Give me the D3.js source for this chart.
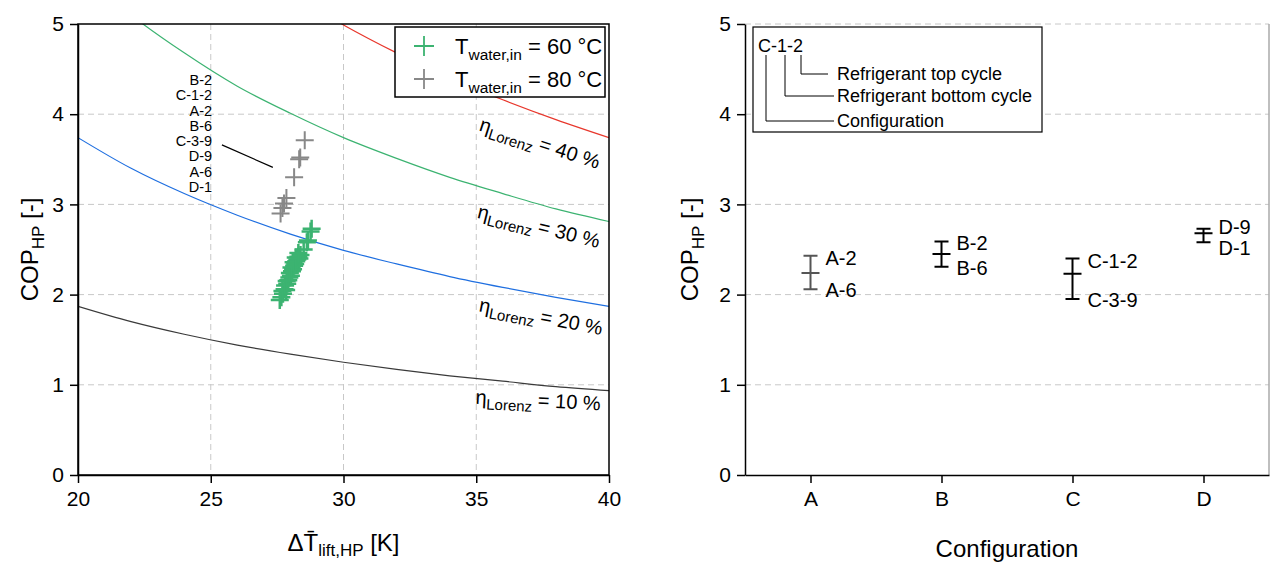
<!DOCTYPE html>
<html>
<head>
<meta charset="utf-8">
<script src="https://cdn.jsdelivr.net/npm/d3@7"></script>
<style>
  body { margin: 0; background: #fff; }
  svg text { font-family: "Liberation Sans", Arial, sans-serif; fill: #000; }
  .grid line { stroke: #c8c8c8; stroke-dasharray: 6,4; }
  .axis path, .axis line { stroke: #000; stroke-width: 1.5; }
  .axis text { font-size: 21px; }
</style>
</head>
<body>
<div id="chart"></div>
<script>
// ---- data ----
// Lorenz efficiency curves (COP read at each temperature lift)
const deltaT = [20, 22, 24, 26, 28, 30, 32, 34, 36, 38, 40];
const cop10 = [1.87, 1.70, 1.56, 1.44, 1.34, 1.25, 1.17, 1.10, 1.04, 0.98, 0.935];
const cop20 = [3.74, 3.40, 3.12, 2.88, 2.67, 2.49, 2.34, 2.20, 2.08, 1.97, 1.87];
const cop30 = [5.61, 5.10, 4.68, 4.31, 4.01, 3.74, 3.51, 3.30, 3.12, 2.95, 2.81];
const cop40 = [7.48, 6.80, 6.23, 5.75, 5.34, 4.99, 4.68, 4.40, 4.16, 3.94, 3.74];
const etaLabels = ["10", "20", "30", "40"];

// simulated heat pumps, T_water,in = 60 °C
const dT60 = [27.60, 27.66, 27.72, 27.70, 27.78, 27.84, 27.80, 27.88, 27.92, 27.86, 27.96, 28.02, 27.98, 28.06,
              28.10, 28.04, 28.14, 28.18, 28.12, 28.22, 28.26, 28.20, 28.30, 28.34, 28.38, 28.30, 28.50, 28.62,
              28.66, 28.80, 28.76];
const cop60 = [1.94, 1.97, 2.01, 2.04, 2.06, 2.05, 2.10, 2.12, 2.16, 2.15, 2.19, 2.21, 2.24, 2.26,
               2.28, 2.30, 2.32, 2.34, 2.36, 2.37, 2.39, 2.41, 2.42, 2.40, 2.44, 2.46, 2.50, 2.58,
               2.60, 2.73, 2.70];
// T_water,in = 80 °C
const dT80 = [28.54, 28.33, 28.37, 28.14, 27.85, 27.76, 27.70, 27.63];
const cop80 = [3.71, 3.50, 3.52, 3.30, 3.07, 3.01, 2.96, 2.90];
const labels80 = ["B-2", "C-1-2", "A-2", "B-6", "C-3-9", "D-9", "A-6", "D-1"];

// per configuration
const configs = ["A", "B", "C", "D"];
const copMean = [2.24, 2.45, 2.23, 2.68];
const copMax = [2.43, 2.59, 2.40, 2.73];
const copMin = [2.06, 2.31, 1.95, 2.58];
const labelTop = ["A-2", "B-2", "C-1-2", "D-9"];
const labelBottom = ["A-6", "B-6", "C-3-9", "D-1"];

const width = 1272, height = 562;
const svg = d3.select("#chart").append("svg")
    .attr("width", width).attr("height", height);

const green = "#3cb371", grey = "#888888";

/*
LEFT PANEL
*/
const L = { left: 78, right: 609, top: 24, bottom: 475 };
const xL = d3.scaleLinear().domain([20, 40]).range([L.left, L.right]);
const yL = d3.scaleLinear().domain([0, 5]).range([L.bottom, L.top]);

svg.append("defs").append("clipPath").attr("id", "clipL")
  .append("rect").attr("x", L.left).attr("y", L.top)
  .attr("width", L.right - L.left).attr("height", L.bottom - L.top);

// grid
svg.append("g").attr("class", "grid")
  .selectAll("line").data([25, 30, 35]).enter().append("line")
  .attr("x1", d => xL(d)).attr("x2", d => xL(d))
  .attr("y1", L.top).attr("y2", L.bottom);
svg.append("g").attr("class", "grid")
  .selectAll("line").data([1, 2, 3, 4]).enter().append("line")
  .attr("x1", L.left).attr("x2", L.right)
  .attr("y1", d => yL(d)).attr("y2", d => yL(d));

// lorenz curves
const curveSets = [cop10, cop20, cop30, cop40];
const curveColors = ["#3a3a3a", "#1f6fe0", green, "#e8372c"];
const line = d3.line()
    .x((d, i) => xL(deltaT[i]))
    .y(d => yL(d))
    .curve(d3.curveMonotoneX);
svg.append("g").attr("clip-path", "url(#clipL)")
  .selectAll("path").data(curveSets).enter().append("path")
  .attr("d", d => line(d))
  .attr("fill", "none")
  .attr("stroke", (d, i) => curveColors[i])
  .attr("stroke-width", 1.2);

// eta labels
const etaPos = [[37.33, 0.83, 3], [37.44, 1.76, 11], [37.36, 2.76, 14], [37.40, 3.68, 18]];
etaLabels.forEach(function (lab, i) {
  const p = etaPos[i];
  const t = svg.append("text")
    .attr("text-anchor", "middle")
    .attr("transform", `translate(${xL(p[0])},${yL(p[1])}) rotate(${p[2]})`)
    .attr("dy", "0.35em")
    .style("font-size", "20px");
  t.append("tspan").text("\u03b7");
  t.append("tspan").attr("dy", 5).style("font-size", "15px").text("Lorenz");
  t.append("tspan").attr("dy", -5).text(" = " + lab + " %");
});

// crosses
function drawCross(g, xs, ys, color, size, sw) {
  g.selectAll("path").data(xs).enter().append("path")
    .attr("d", (d, i) => `M${xL(d) - size},${yL(ys[i])}h${2 * size}M${xL(d)},${yL(ys[i]) - size}v${2 * size}`)
    .attr("stroke", color)
    .attr("stroke-width", sw)
    .attr("fill", "none");
}
drawCross(svg.append("g"), dT80, cop80, grey, 9, 2);
drawCross(svg.append("g"), dT60, cop60, green, 9, 2.5);

// label list for the 80 °C points
svg.append("g").selectAll("text").data(labels80).enter().append("text")
  .attr("x", xL(25.05))
  .attr("y", (d, i) => yL(4.38) + i * 15.3)
  .attr("dy", "0.35em")
  .attr("text-anchor", "end")
  .style("font-size", "14.5px")
  .text(d => d);
svg.append("line")
  .attr("x1", xL(25.42)).attr("y1", yL(3.66))
  .attr("x2", xL(27.34)).attr("y2", yL(3.41))
  .attr("stroke", "#000").attr("stroke-width", 1.2);

// axes
svg.append("g").attr("class", "axis")
  .attr("transform", `translate(0,${L.bottom})`)
  .call(d3.axisBottom(xL).tickValues([20, 25, 30, 35, 40]).tickSizeInner(8).tickSizeOuter(0).tickPadding(8));
svg.append("g").attr("class", "axis")
  .attr("transform", `translate(${L.left},0)`)
  .call(d3.axisLeft(yL).ticks(5).tickSizeInner(8).tickSizeOuter(0).tickPadding(6));
svg.append("rect")
  .attr("x", L.left).attr("y", L.top)
  .attr("width", L.right - L.left).attr("height", L.bottom - L.top)
  .attr("fill", "none").attr("stroke", "#000").attr("stroke-width", 1.5);

// legend
const lg = svg.append("g");
lg.append("rect").attr("x", 395).attr("y", 27).attr("width", 210).attr("height", 70)
  .attr("fill", "#fff").attr("stroke", "#000").attr("stroke-width", 1.5);
[["60", green, 46], ["80", grey, 79]].forEach(function (r) {
  lg.append("path").attr("d", `M414,${r[2]}h20M424,${r[2] - 10}v20`)
    .attr("stroke", r[1]).attr("stroke-width", 1.8);
  const t = lg.append("text").attr("x", 455).attr("y", r[2]).attr("dy", "0.35em").style("font-size", "22px");
  t.append("tspan").text("T");
  t.append("tspan").attr("dy", 6).style("font-size", "15.5px").text("water,in");
  t.append("tspan").attr("dy", -6).text(" = " + r[0] + " \u00b0C");
});

// axis labels
const ylabL = svg.append("text")
  .attr("transform", `translate(30,${(L.top + L.bottom) / 2}) rotate(-90)`)
  .attr("text-anchor", "middle").attr("dy", "0.35em").style("font-size", "24px");
ylabL.append("tspan").text("COP");
ylabL.append("tspan").attr("dy", 6).style("font-size", "17px").text("HP");
ylabL.append("tspan").attr("dy", -6).text(" [-]");

const xlabL = svg.append("text")
  .attr("x", (L.left + L.right) / 2).attr("y", 551)
  .attr("text-anchor", "middle").style("font-size", "24px");
xlabL.append("tspan").text("\u0394T\u0304");
xlabL.append("tspan").attr("dy", 5).style("font-size", "17px").text("lift,HP");
xlabL.append("tspan").attr("dy", -5).text(" [K]");

/*
RIGHT PANEL
*/
const R = { left: 745, right: 1269, top: 24, bottom: 475 };
const xR = d3.scalePoint().domain(configs).range([R.left, R.right]).padding(0.5);
const yR = d3.scaleLinear().domain([0, 5]).range([R.bottom, R.top]);

svg.append("g").attr("class", "grid")
  .selectAll("line").data([1, 2, 3, 4, 5]).enter().append("line")
  .attr("x1", R.left).attr("x2", R.right)
  .attr("y1", d => yR(d)).attr("y2", d => yR(d));
svg.append("line")
  .attr("x1", R.right).attr("x2", R.right).attr("y1", R.top).attr("y2", R.bottom)
  .attr("stroke", "#aaa").attr("stroke-width", 1.5);

// error bars
const eb = svg.append("g").selectAll("g").data(configs).enter().append("g");
eb.append("path")
  .attr("d", (d, i) => {
    const x = xR(d);
    return `M${x - 7},${yR(copMax[i])}h14M${x - 7},${yR(copMin[i])}h14` +
           `M${x},${yR(copMax[i])}V${yR(copMin[i])}M${x - 9},${yR(copMean[i])}h18`;
  })
  .attr("stroke", (d, i) => i === 0 ? "#555" : "#000")
  .attr("stroke-width", 2)
  .attr("fill", "none");
// labels beside the bars, pushed apart when too close
eb.each(function (d, i) {
  let yt = yR(copMax[i]), yb = yR(copMin[i]);
  const gap = 22;
  if (yb - yt < gap) {
    const m = (yt + yb) / 2;
    yt = m - gap / 2; yb = m + gap / 2;
  }
  const g = d3.select(this);
  g.append("text").attr("x", xR(d) + 15).attr("y", yt + 2).attr("dy", "0.35em")
    .style("font-size", "20px").text(labelTop[i]);
  g.append("text").attr("x", xR(d) + 15).attr("y", yb + 1).attr("dy", "0.35em")
    .style("font-size", "20px").text(labelBottom[i]);
});

svg.append("g").attr("class", "axis")
  .attr("transform", `translate(0,${R.bottom})`)
  .call(d3.axisBottom(xR).tickSizeInner(8).tickSizeOuter(0).tickPadding(8));
svg.append("g").attr("class", "axis")
  .attr("transform", `translate(${R.left},0)`)
  .call(d3.axisLeft(yR).ticks(5).tickSizeInner(8).tickSizeOuter(0).tickPadding(6));

// naming legend
const nl = svg.append("g");
nl.append("rect").attr("x", 753).attr("y", 27).attr("width", 289).attr("height", 105)
  .attr("fill", "#fff").attr("stroke", "#000").attr("stroke-width", 1.2);
nl.append("text").attr("x", 758).attr("y", 46).attr("dy", "0.35em").style("font-size", "18px").text("C-1-2");
const naming = [["Refrigerant top cycle", 801, 74, 828], ["Refrigerant bottom cycle", 785, 96, 834], ["Configuration", 766, 121, 834]];
naming.forEach(function (n) {
  nl.append("path").attr("d", `M${n[1]},55V${n[2]}H${n[3]}`)
    .attr("fill", "none").attr("stroke", "#000").attr("stroke-width", 1);
  nl.append("text").attr("x", 837).attr("y", n[2]).attr("dy", "0.35em").style("font-size", "18px").text(n[0]);
});

const ylabR = svg.append("text")
  .attr("transform", `translate(690,${(R.top + R.bottom) / 2}) rotate(-90)`)
  .attr("text-anchor", "middle").attr("dy", "0.35em").style("font-size", "24px");
ylabR.append("tspan").text("COP");
ylabR.append("tspan").attr("dy", 6).style("font-size", "17px").text("HP");
ylabR.append("tspan").attr("dy", -6).text(" [-]");

svg.append("text")
  .attr("x", (R.left + R.right) / 2).attr("y", 557)
  .attr("text-anchor", "middle").style("font-size", "24px")
  .text("Configuration");
</script>
</body>
</html>
